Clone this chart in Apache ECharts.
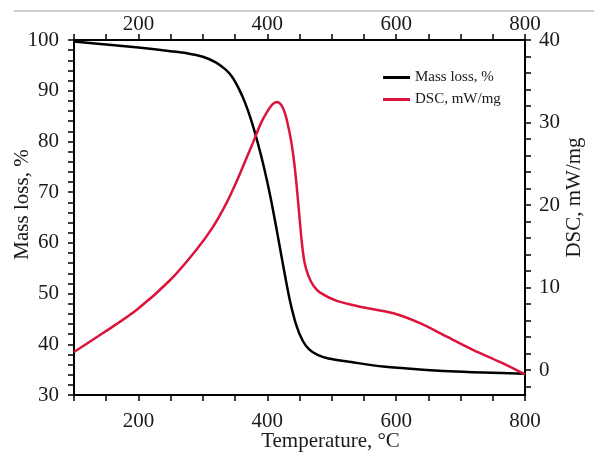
<!DOCTYPE html>
<html>
<head>
<meta charset="utf-8">
<script src="https://cdn.jsdelivr.net/npm/echarts@6/dist/echarts.min.js"></script>
<style>
  html, body { margin: 0; padding: 0; background: #fff; }
  #chart { width: 594px; height: 463px; }
</style>
</head>
<body>
<div id="chart"></div>
<script>
// TG curve (mass loss, left axis)
const tgTemps = [100, 150, 200, 250, 275, 300, 320, 335, 345, 355, 365, 375, 385, 395, 405, 415, 425, 435, 445, 455, 465, 478, 495, 530, 580, 632, 684, 735, 800]
const massLoss = [99.7, 99.1, 98.5, 97.8, 97.4, 96.7, 95.6, 94.2, 92.8, 90.6, 87.8, 84.2, 79.8, 74.8, 69.0, 62.3, 55.3, 48.7, 43.8, 40.7, 39.0, 37.9, 37.2, 36.5, 35.6, 35.1, 34.7, 34.45, 34.2]

// DSC curve (right axis)
const dscTemps = [100, 145, 197, 249, 290, 316, 337, 352, 365, 378, 390, 399, 408, 415, 422, 428, 434, 438, 442, 446, 450, 454, 458, 464, 472, 482, 508, 544, 596, 637, 678, 720, 761, 800]
const dscValues = [2.2, 4.5, 7.3, 10.9, 14.6, 17.4, 20.3, 22.8, 25.2, 27.6, 29.9, 31.2, 32.2, 32.5, 32.1, 31.0, 29.0, 27.3, 25.0, 22.0, 18.5, 15.2, 13.0, 11.4, 10.2, 9.4, 8.4, 7.7, 6.9, 5.7, 4.1, 2.45, 1.0, -0.5]

// ticks & labels
const xTicks = [100, 150, 200, 250, 300, 350, 400, 450, 500, 550, 600, 650, 700, 750, 800]
const xLabels = [200, 400, 600, 800]
const massTicks = [30, 32, 34, 36, 38, 40, 42, 44, 46, 48, 50, 52, 54, 56, 58, 60, 62, 64, 66, 68, 70, 72, 74, 76, 78, 80, 82, 84, 86, 88, 90, 92, 94, 96, 98, 100]
const massLabels = [30, 40, 50, 60, 70, 80, 90, 100]
const dscTicks = [-2, 0, 2, 4, 6, 8, 10, 12, 14, 16, 18, 20, 22, 24, 26, 28, 30, 32, 34, 36, 38, 40]
const dscLabels = [0, 10, 20, 30, 40]

const serif = 'Liberation Serif'
const black = '#000'
const red = '#dc143c'
const textColor = '#1a1a1a'

const zip = (xs, ys) => xs.map((x, i) => [x, ys[i]])

const axisBase = (ticks, labels, margin) => ({
  type: 'value',
  nameMoveOverlap: false,
  axisLine: { show: true, onZero: false, lineStyle: { color: black, width: 2 } },
  axisTick: { show: true, inside: false, length: 6, customValues: ticks, lineStyle: { color: black, width: 1.5 } },
  axisLabel: { customValues: labels, color: textColor, fontFamily: serif, fontSize: 21, margin: margin },
  splitLine: { show: false }
})

const chart = echarts.init(document.getElementById('chart'))
chart.setOption({
  animation: false,
  backgroundColor: '#fff',
  grid: { left: 74, right: 69, top: 40, bottom: 68, containLabel: false, outerBoundsMode: 'none' },
  graphic: [{
    type: 'line',
    shape: { x1: 14, y1: 11, x2: 594, y2: 11 },
    style: { stroke: '#9a9a9a', lineWidth: 1 }
  }],
  legend: {
    orient: 'vertical',
    left: 378,
    top: 65,
    itemGap: 7,
    itemWidth: 27,
    itemHeight: 3,
    icon: 'rect',
    textStyle: { fontFamily: serif, fontSize: 15, color: textColor },
    data: ['Mass loss, %', 'DSC, mW/mg']
  },
  xAxis: [
    Object.assign(axisBase(xTicks, xLabels, 16), {
      position: 'bottom', min: 100, max: 800,
      name: 'Temperature, °C', nameLocation: 'middle', nameGap: 36,
      nameTextStyle: { color: textColor, fontFamily: serif, fontSize: 21, padding: [0, 0, 0, 62] }
    }),
    Object.assign(axisBase(xTicks, xLabels, 5), {
      position: 'top', min: 100, max: 800
    })
  ],
  yAxis: [
    Object.assign(axisBase(massTicks, massLabels, 15), {
      position: 'left', min: 30, max: 100,
      name: 'Mass loss, %', nameLocation: 'middle', nameGap: 41, nameRotate: 90,
      nameTextStyle: { color: textColor, fontFamily: serif, fontSize: 21, padding: [0, 0, 0, 26] }
    }),
    Object.assign(axisBase(dscTicks, dscLabels, 14), {
      position: 'right', min: -3, max: 40,
      name: 'DSC, mW/mg', nameLocation: 'middle', nameGap: 39, nameRotate: 90,
      nameTextStyle: { color: textColor, fontFamily: serif, fontSize: 21, padding: [0, 0, 0, 40] }
    })
  ],
  series: [
    {
      name: 'Mass loss, %',
      type: 'line',
      xAxisIndex: 0,
      yAxisIndex: 0,
      data: zip(tgTemps, massLoss),
      smooth: 0.3,
      showSymbol: false,
      lineStyle: { color: black, width: 2.5 },
      itemStyle: { color: black }
    },
    {
      name: 'DSC, mW/mg',
      type: 'line',
      xAxisIndex: 0,
      yAxisIndex: 1,
      data: zip(dscTemps, dscValues),
      smooth: 0.3,
      showSymbol: false,
      lineStyle: { color: red, width: 2.5 },
      itemStyle: { color: red }
    }
  ]
})
</script>
</body>
</html>
